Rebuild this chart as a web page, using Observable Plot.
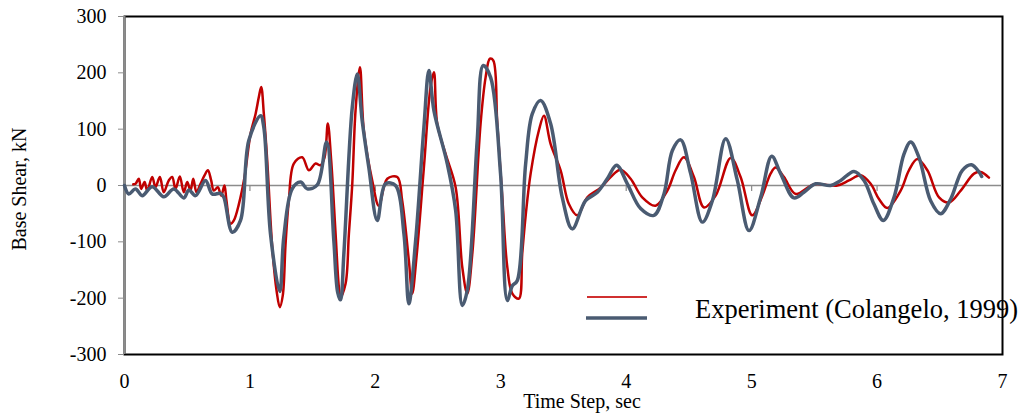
<!DOCTYPE html>
<html>
<head>
<meta charset="utf-8">
<script src="https://cdn.jsdelivr.net/npm/d3@7"></script>
<script src="https://cdn.jsdelivr.net/npm/@observablehq/plot@0.6"></script>
<style>
  html, body { margin: 0; padding: 0; background: white; }
  #chart { width: 1022px; height: 414px; overflow: hidden; }
</style>
</head>
<body>
<div id="chart"></div>
<script>
const xTicks = [0, 1, 2, 3, 4, 5, 6, 7];
const yTicks = [-300, -200, -100, 0, 100, 200, 300];
const xLabel = "Time Step, sec";
const yLabel = "Base Shear, kN";
const legendLabel = "Experiment (Colangelo, 1999)";

// Analysis (model) series — blue-grey
const modelTime = [0.0, 0.034, 0.088, 0.141, 0.221, 0.313, 0.393, 0.473, 0.513, 0.566, 0.646, 0.699, 0.766, 0.792,
  0.859, 0.925, 0.991, 1.085, 1.111, 1.164, 1.238, 1.270, 1.337, 1.404, 1.457, 1.537, 1.611, 1.669, 1.700, 1.722, 1.749,
  1.816, 1.856, 1.895, 1.948, 2.015, 2.081, 2.161, 2.228, 2.267, 2.321, 2.387, 2.427, 2.467, 2.573, 2.640,
  2.693, 2.733, 2.812, 2.860, 2.919, 2.998, 3.052, 3.092, 3.131, 3.198, 3.251, 3.317, 3.397, 3.490, 3.570,
  3.676, 3.770, 3.849, 3.923, 4.009, 4.115, 4.221, 4.301, 4.368, 4.434, 4.514, 4.607, 4.687, 4.793, 4.886,
  4.979, 5.072, 5.160, 5.231, 5.337, 5.417, 5.510, 5.630, 5.710, 5.816, 5.896, 5.975, 6.050, 6.135, 6.215,
  6.268, 6.334, 6.427, 6.507, 6.587, 6.680, 6.752, 6.813, 6.834];
const modelShear = [0, -15, -6, -18, -2, -20, -6, -22, -8, -18, 9, -15, -14, -21,
  -83, -62, 80, 124, 103, -86, -188, -92, -6, 6, -6, 1, 77, -98, -190, -203, -121,
  139, 198, 115, 32, -62, 3, 0, -86, -210, -98, 103, 204, 133, 39, -44,
  -213, -186, 80, 213, 192, 21, -204, -178, -169, 38, 127, 151, 110, -21, -77,
  -27, -12, 12, 36, 3, -41, -53, -15, 62, 81, 21, -65, -27, 83, 9,
  -80, -21, 52, 21, -22, -12, 3, 0, 9, 25, 9, -33, -62, -21, 56,
  77, 50, -27, -50, -24, 27, 37, 24, 16];

// Experiment series — red
const expTime = [0.07, 0.088, 0.114, 0.133, 0.160, 0.181, 0.221, 0.247, 0.282, 0.313, 0.353, 0.380, 0.407, 0.441,
  0.473, 0.500, 0.526, 0.548, 0.574, 0.606, 0.638, 0.665, 0.691, 0.712, 0.744, 0.771, 0.797, 0.813, 0.845,
  0.872, 0.912, 0.957, 1.005, 1.045, 1.071, 1.090, 1.111, 1.138, 1.178, 1.212, 1.238, 1.262, 1.284, 1.310,
  1.350, 1.417, 1.470, 1.523, 1.563, 1.595, 1.621, 1.648, 1.683, 1.709, 1.722, 1.762, 1.789, 1.816, 1.842,
  1.877, 1.908, 1.975, 2.028, 2.095, 2.175, 2.214, 2.267, 2.294, 2.328, 2.387, 2.440, 2.467, 2.493, 2.560,
  2.640, 2.693, 2.733, 2.773, 2.839, 2.879, 2.913, 2.940, 2.972, 3.012, 3.052, 3.092, 3.144, 3.171, 3.200,
  3.238, 3.304, 3.344, 3.397, 3.477, 3.543, 3.610, 3.690, 3.796, 3.876, 3.955, 4.035, 4.128, 4.234, 4.328,
  4.394, 4.460, 4.540, 4.620, 4.713, 4.833, 4.912, 5.005, 5.085, 5.151, 5.191, 5.258, 5.351, 5.497, 5.683,
  5.776, 5.869, 5.949, 6.015, 6.082, 6.188, 6.254, 6.321, 6.401, 6.494, 6.574, 6.667, 6.773, 6.826, 6.892];
const expShear = [2, 3, 12, -6, 6, -9, 15, -3, 15, -12, 9, 15, -6, 16,
  -12, 6, -9, 12, -12, 3, 18, 27, 9, -9, -3, -18, 0, -27, -68,
  -62, -33, 15, 92, 127, 157, 175, 127, 44, -110, -186, -216, -195, -104, -27,
  39, 50, 27, 39, 36, 50, 110, 44, -86, -180, -198, -175, -86, 3, 133,
  210, 98, 9, -36, 12, 15, -27, -133, -192, -127, 32, 175, 201, 110, 56,
  -3, -145, -192, -121, 110, 192, 225, 222, 110, -21, -145, -192, -201, -121, -50,
  21, 98, 124, 74, 27, -33, -53, -21, -4, 15, 28, 12, -21, -36, -9,
  27, 50, 15, -39, -18, 49, 15, -53, -18, 21, 32, 15, -15, 2, 0,
  9, 18, 3, -24, -40, -9, 27, 47, 27, -21, -30, -9, 21, 24, 14];

const blue = "#4a5b72";
const red = "#c00000";
const gray = "#8c8c8c";

const model = modelTime.map((t, i) => ({t, v: modelShear[i]}));
const experiment = expTime.map((t, i) => ({t, v: expShear[i]}));

const chart = Plot.plot({
  width: 1022,
  height: 414,
  marginTop: 16,
  marginRight: 20,
  marginBottom: 60,
  marginLeft: 124,
  x: {domain: [0, 7]},
  y: {domain: [-300, 300]},
  style: {fontFamily: "Liberation Serif", fontSize: "20px", color: "black", background: "white", overflow: "visible"},
  marks: [
    Plot.frame({stroke: "black", strokeWidth: 2}),
    Plot.ruleY([0], {stroke: gray, strokeWidth: 1.5}),
    Plot.ruleX(xTicks.slice(1, -1), {x: d => d, y1: 0, y2: 0, insetBottom: -6, stroke: gray, strokeWidth: 1.2}),
    Plot.ruleX([0], {stroke: gray, strokeWidth: 2}),
    Plot.axisY({ticks: yTicks, tickSize: 6, tickPadding: 12, stroke: gray, label: null, fontSize: 20, tickFormat: d => String(d)}),
    Plot.axisX({ticks: xTicks, tickSize: 0, tickPadding: 19, label: null, fontSize: 20, tickFormat: d => String(d)}),
    Plot.line(experiment, {x: "t", y: "v", stroke: red, strokeWidth: 2.5, curve: "catmull-rom"}),
    Plot.line(model, {x: "t", y: "v", stroke: blue, strokeWidth: 3.5, curve: "catmull-rom"})
  ]
});

const svg = d3.select(chart);
svg.append("text")
  .attr("transform", "translate(26,189) rotate(-90)")
  .attr("text-anchor", "middle")
  .attr("font-size", 20)
  .attr("fill", "black")
  .text(yLabel);
svg.append("text")
  .attr("x", 582).attr("y", 408)
  .attr("text-anchor", "middle")
  .attr("font-size", 20)
  .attr("fill", "black")
  .text(xLabel);
const lg = svg.append("g");
lg.append("line").attr("x1", 587).attr("x2", 647).attr("y1", 297).attr("y2", 297)
  .attr("stroke", "#d03030").attr("stroke-width", 2);
lg.append("line").attr("x1", 586).attr("x2", 647).attr("y1", 318).attr("y2", 318)
  .attr("stroke", blue).attr("stroke-width", 3.5);
lg.append("text").attr("x", 695).attr("y", 318)
  .attr("text-anchor", "start")
  .attr("font-size", 26.5).attr("fill", "black")
  .text(legendLabel);

document.getElementById("chart").appendChild(chart);
</script>
</body>
</html>
